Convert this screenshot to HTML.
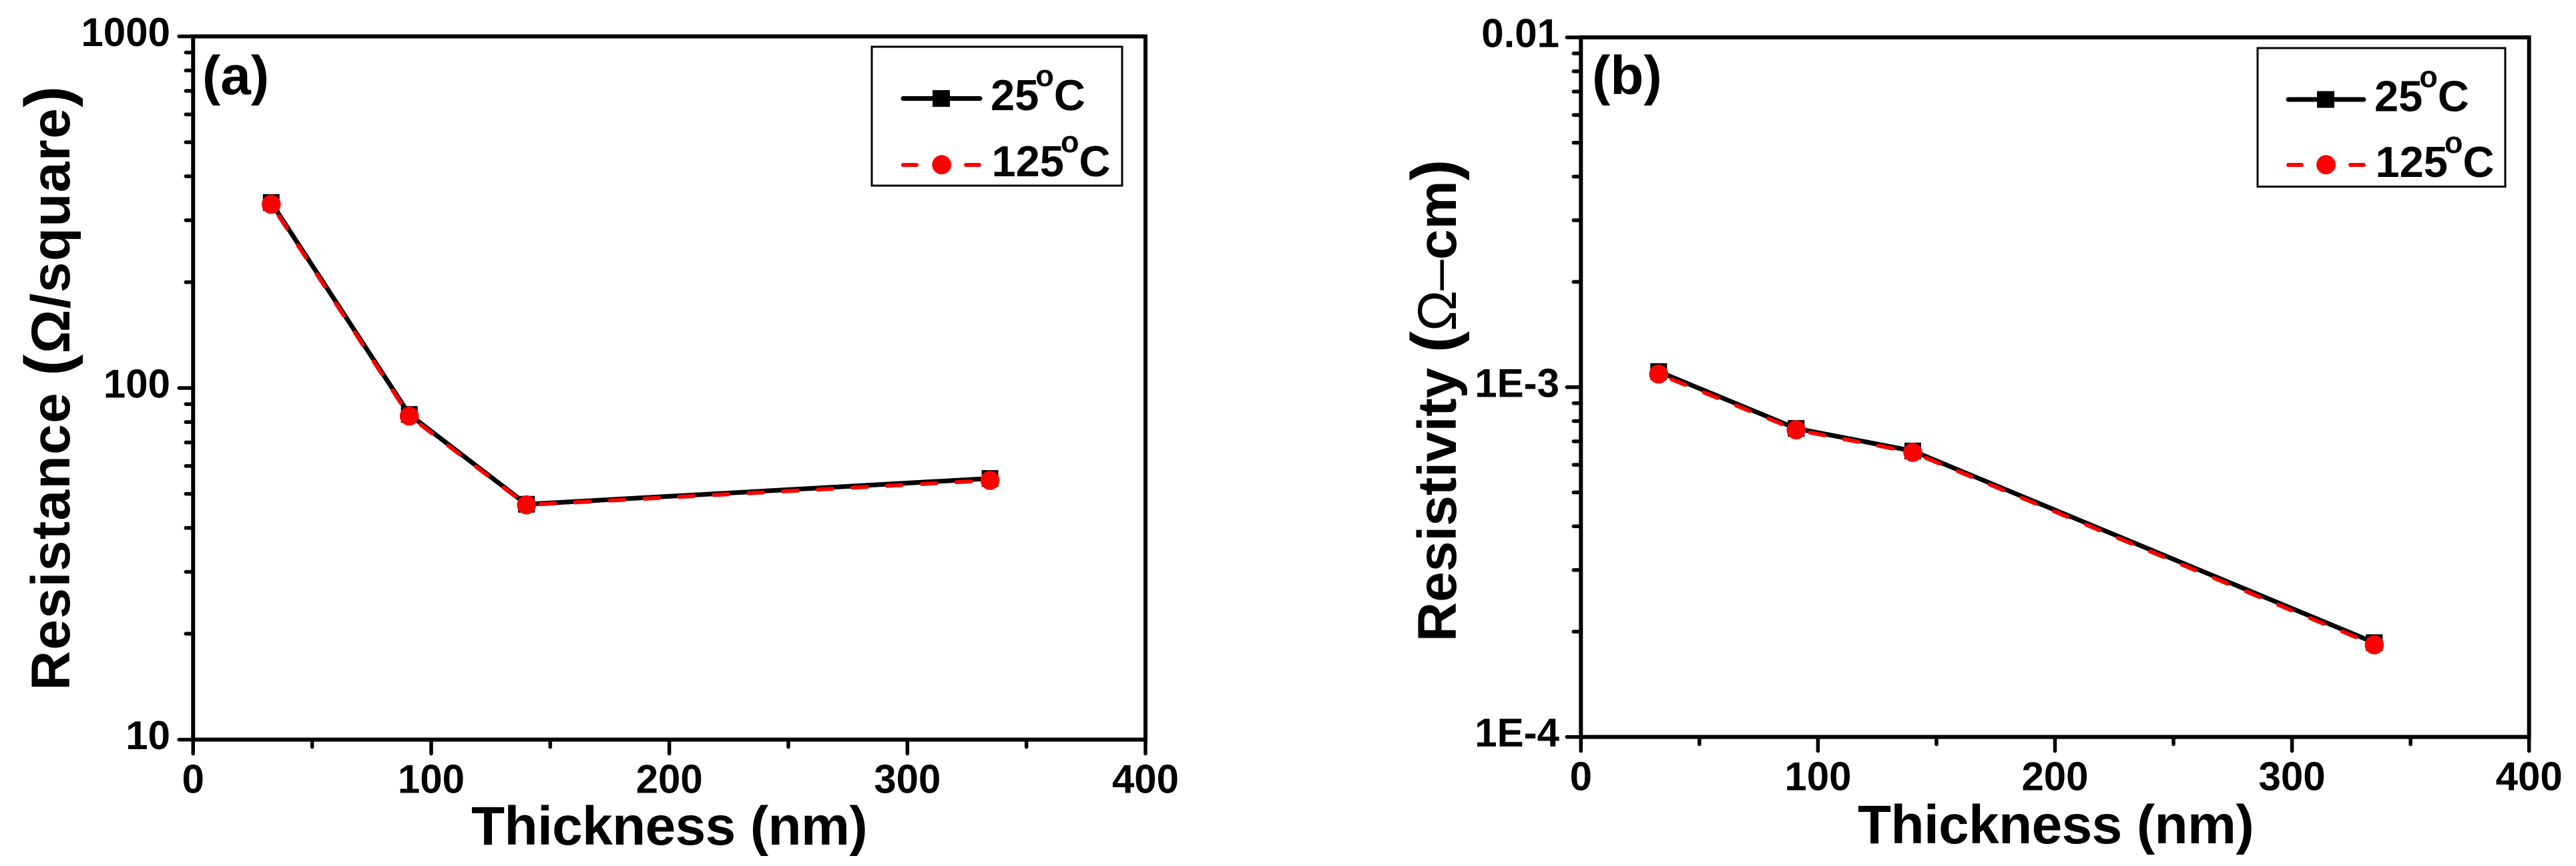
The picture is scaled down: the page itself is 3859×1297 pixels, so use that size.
<!DOCTYPE html>
<html lang="en">
<head>
<meta charset="utf-8">
<title>Resistance and resistivity versus thickness</title>
<style>
html,body{margin:0;padding:0;background:#fff;width:3859px;height:1297px;overflow:hidden}
svg{display:block}
text{font-family:"Liberation Sans",sans-serif;font-weight:bold;fill:#000}
</style>
</head>
<body>
<svg id="figure" xmlns="http://www.w3.org/2000/svg" width="3859" height="1297" viewBox="0 0 3859 1297">
  <rect x="0" y="0" width="3859" height="1297" fill="#fff"/>

  <g id="panel-a">
    <rect x="289.3" y="54.5" width="1426.7" height="1053.2" fill="none" stroke="#000" stroke-width="6"/>
    <text x="303" y="141" font-size="82">(a)</text>
    <text x="706" y="1265" font-size="82" letter-spacing="-0.6">Thickness (nm)</text>
    <text transform="translate(104,1034) rotate(-90)" font-size="82" letter-spacing="1.4">Resistance <tspan font-size="96">(</tspan>Ω/square<tspan font-size="96">)</tspan></text>
    <g>
      <rect x="1306" y="70" width="375" height="208" fill="#fff" stroke="#000" stroke-width="3"/>
      <line x1="1353" y1="147.5" x2="1468" y2="147.5" stroke="#000" stroke-width="7" stroke-linecap="round"/>
      <rect x="1397" y="135" width="26" height="25" fill="#000"/>
      <text x="1484" y="165" font-size="65">25<tspan font-size="45" dx="-5" dy="-36">o</tspan><tspan dy="36">C</tspan></text>
      <line x1="1353" y1="247" x2="1373" y2="247" stroke="#f00" stroke-width="6" stroke-linecap="round"/>
      <line x1="1447" y1="247" x2="1467" y2="247" stroke="#f00" stroke-width="6" stroke-linecap="round"/>
      <circle cx="1410.7" cy="246.7" r="14.4" fill="#f00"/>
      <text x="1485.5" y="264" font-size="65">125<tspan font-size="45" dx="-5" dy="-36">o</tspan><tspan dy="36">C</tspan></text>
    </g>
  </g>

  <g id="panel-b">
    <rect x="2368.3" y="56" width="1420.4" height="1047.7" fill="none" stroke="#000" stroke-width="6"/>
    <text x="2385" y="141" font-size="82">(b)</text>
    <text x="2783" y="1263" font-size="82" letter-spacing="-0.6">Thickness (nm)</text>
    <text transform="translate(2181,961) rotate(-90)" font-size="82">Resistivity <tspan font-size="96">(</tspan><tspan font-weight="normal">Ω–</tspan>cm<tspan font-size="96">)</tspan></text>
    <g>
      <rect x="3382" y="72" width="371" height="207.5" fill="#fff" stroke="#000" stroke-width="3"/>
      <line x1="3428" y1="149" x2="3541" y2="149" stroke="#000" stroke-width="7" stroke-linecap="round"/>
      <rect x="3471" y="136.5" width="26" height="25" fill="#000"/>
      <text x="3557" y="166.5" font-size="65">25<tspan font-size="45" dx="-5" dy="-36">o</tspan><tspan dy="36">C</tspan></text>
      <line x1="3428" y1="247" x2="3448" y2="247" stroke="#f00" stroke-width="6" stroke-linecap="round"/>
      <line x1="3521" y1="247" x2="3541" y2="247" stroke="#f00" stroke-width="6" stroke-linecap="round"/>
      <circle cx="3484.5" cy="246.7" r="14.4" fill="#f00"/>
      <text x="3558.5" y="265" font-size="65">125<tspan font-size="45" dx="-5" dy="-36">o</tspan><tspan dy="36">C</tspan></text>
    </g>
  </g>
</svg>

<script>
const thicknessNm = [32.8, 90.8, 140, 334.7];
const resistance25C = [337, 84.1, 46.7, 55.3];
const resistance125C = [333, 83.2, 46.5, 54.6];
const resistivity25C = [0.001108, 0.000762, 0.000657, 0.000186];
const resistivity125C = [0.00109, 0.000755, 0.000651, 0.0001833];

const xMajorTicks = [0, 100, 200, 300, 400];
const xMinorTicks = [50, 150, 250, 350];
const xTickLabels = ["0", "100", "200", "300", "400"];

const resistanceMajorTicks = [10, 100, 1000];
const resistanceTickLabels = ["10", "100", "1000"];
const resistivityMajorTicks = [0.0001, 0.001, 0.01];
const resistivityTickLabels = ["1E-4", "1E-3", "0.01"];
const minorDecadeFactors = [2, 3, 4, 5, 6, 7, 8, 9];

const SVG_NS = "http://www.w3.org/2000/svg";

function make(parent, tag, attrs, text) {
  const el = document.createElementNS(SVG_NS, tag);
  for (const k in attrs) el.setAttribute(k, attrs[k]);
  if (text !== undefined) el.textContent = text;
  parent.appendChild(el);
  return el;
}

function drawPanel(panelId, box, xValues, yMajor, yLabels, series25, series125, labelRight) {
  const root = document.getElementById(panelId);
  const suffix = panelId.slice(-1);
  const x = v => box.left + (v - 0) / 400 * (box.right - box.left);
  const logMin = Math.log10(yMajor[0]);
  const logMax = Math.log10(yMajor[yMajor.length - 1]);
  const y = v => box.bottom - (Math.log10(v) - logMin) / (logMax - logMin) * (box.bottom - box.top);

  xMajorTicks.forEach((v, i) => {
    const tick = make(root, "line", {x1: x(v), x2: x(v), y1: box.bottom, y2: box.bottom + 21, stroke: "#000", "stroke-width": 5.5, "stroke-linecap": "round"});
    
    
    const label = make(root, "text", {x: x(v), y: box.bottom + 80, "font-size": 60, "text-anchor": "middle"}, xTickLabels[i]);
    
    
  });
  xMinorTicks.forEach(v => {
    const tick = make(root, "line", {x1: x(v), x2: x(v), y1: box.bottom, y2: box.bottom + 11, stroke: "#000", "stroke-width": 5.5, "stroke-linecap": "round"});
    
    
  });

  yMajor.forEach((v, i) => {
    const tick = make(root, "line", {x1: box.left, x2: box.left - 21, y1: y(v), y2: y(v), stroke: "#000", "stroke-width": 5.5, "stroke-linecap": "round"});
    
    
    const label = make(root, "text", {x: labelRight, y: y(v) + 14.5, "font-size": 60, "text-anchor": "end"}, yLabels[i]);
    
    
    if (i < yMajor.length - 1) {
      minorDecadeFactors.forEach(f => {
        const minor = make(root, "line", {x1: box.left, x2: box.left - 11, y1: y(v * f), y2: y(v * f), stroke: "#000", "stroke-width": 5.5, "stroke-linecap": "round"});
        
        
      });
    }
  });

  const blackPts = xValues.map((v, i) => x(v) + "," + y(series25[i])).join(" ");
  const blackLine = make(root, "polyline", {points: blackPts, fill: "none", stroke: "#000", "stroke-width": 7, "stroke-linejoin": "round"});
  
  

  xValues.forEach((v, i) => {
    const sq = make(root, "rect", {x: x(v) - 12.5, y: y(series25[i]) - 12.5, width: 25, height: 25, fill: "#000"});
    
    
  });

  for (let i = 0; i < xValues.length - 1; i++) {
    const seg = make(root, "line", {
      x1: x(xValues[i]), y1: y(series125[i]),
      x2: x(xValues[i + 1]), y2: y(series125[i + 1]),
      stroke: "#f00", "stroke-width": 6, "stroke-linecap": "round",
      "stroke-dasharray": "22 30", "stroke-dashoffset": 31
    });
    
    
  }

  xValues.forEach((v, i) => {
    const dot = make(root, "circle", {cx: x(v), cy: y(series125[i]), r: 14.3, fill: "#f00"});
    
    
  });
}

drawPanel("panel-a", {left: 289.3, right: 1716, top: 54.5, bottom: 1107.7},
  thicknessNm, resistanceMajorTicks, resistanceTickLabels, resistance25C, resistance125C, 255);
drawPanel("panel-b", {left: 2368.3, right: 3788.7, top: 56, bottom: 1103.7},
  thicknessNm, resistivityMajorTicks, resistivityTickLabels, resistivity25C, resistivity125C, 2336);
</script>
</body>
</html>
